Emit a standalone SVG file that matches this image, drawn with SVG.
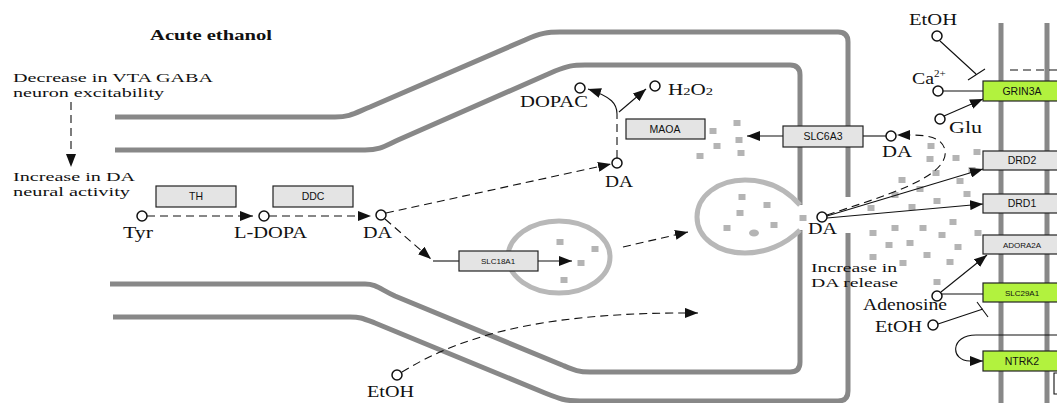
<svg xmlns="http://www.w3.org/2000/svg" width="1057" height="403" viewBox="0 0 1057 403">
<style>
.mem{fill:none;stroke:#888;stroke-width:5}
.ves{fill:none;stroke:#b8b8b8;stroke-width:5}
.sq{fill:#b4b4b4}
.box{fill:#e4e4e4;stroke:#222;stroke-width:1.2}
.gbox{fill:#b2f23e;stroke:#222;stroke-width:1.2}
.bt{font-family:"Liberation Sans",Arial,sans-serif;font-size:10.5px;fill:#111;text-anchor:middle}
.bts{font-family:"Liberation Sans",Arial,sans-serif;font-size:8px;fill:#111;text-anchor:middle}
.t{font-family:"Liberation Serif","Times New Roman",serif;font-size:16px;fill:#111}
.t2{font-family:"Liberation Serif","Times New Roman",serif;font-size:13.5px;fill:#111}
.node{fill:#fff;stroke:#111;stroke-width:1.5}
.ln{fill:none;stroke:#111;stroke-width:1.1}
.dl{fill:none;stroke:#111;stroke-width:1.1;stroke-dasharray:8 5}
</style>
<defs>
<marker id="ar" markerUnits="userSpaceOnUse" markerWidth="14" markerHeight="10" refX="13" refY="5" orient="auto">
<path d="M0,0 L13,5 L0,10 Z" fill="#111"/>
</marker>
</defs>
<rect width="1057" height="403" fill="#fff"/>

<g id="membranes">
<path class="mem" d="M115 117 L335 117 C350 117 355 113 370 107 L525 40 C540 33 548 32 560 32 L838 32 Q848 32 848 42 L848 197"/>
<path class="mem" d="M848 233 L848 391 Q848 401 838 401 L580 401 C565 401 560 399 545 393 L375 323 C362 318 360 317 350 317 L113 317"/>
<path class="mem" d="M115 150 L365 150 C380 150 385 146 398 140 L555 71 C568 66 572 65 585 65 L790 65 Q800 65 800 75 L800 205"/>
<path class="mem" d="M800 230 L800 362 Q800 372 790 372 L590 372 C578 372 574 370 562 365 L395 296 C380 289 376 284 365 284 L110 284"/>
<path class="mem" d="M1001 23 L1001 403 M1047 23 L1047 403"/>
</g>

<g id="vesicles">
<path class="ves" d="M800 205 C785 188 765 180 745 180 C718 180 697 196 697 217 C697 238 718 253 745 253 C765 253 785 245 800 230"/>
<ellipse class="ves" cx="559" cy="257" rx="51" ry="36"/>
</g>

<g id="particles">
<rect class="sq" x="733.5" y="120" width="7" height="6"/>
<rect class="sq" x="709.5" y="128" width="7" height="6"/>
<rect class="sq" x="735.5" y="137" width="7" height="6"/>
<rect class="sq" x="713.5" y="143" width="7" height="6"/>
<rect class="sq" x="737.5" y="150" width="7" height="6"/>
<rect class="sq" x="696.5" y="153" width="7" height="6"/>
<rect class="sq" x="738.5" y="194" width="7" height="6"/>
<rect class="sq" x="763.5" y="202" width="7" height="6"/>
<rect class="sq" x="736.5" y="210" width="7" height="6"/>
<rect class="sq" x="723.5" y="225" width="7" height="6"/>
<rect class="sq" x="770.5" y="222" width="7" height="6"/>
<rect class="sq" x="799.5" y="215" width="7" height="6"/>
<ellipse class="sq" cx="754" cy="233" rx="5" ry="3.5"/>
<rect class="sq" x="556.5" y="239" width="7" height="6"/>
<rect class="sq" x="591.5" y="246" width="7" height="6"/>
<rect class="sq" x="577.5" y="260" width="7" height="6"/>
<rect class="sq" x="560.5" y="277" width="7" height="6"/>
<rect class="sq" x="927.5" y="143" width="7" height="6"/>
<rect class="sq" x="926.5" y="156" width="7" height="6"/>
<rect class="sq" x="952.5" y="155" width="7" height="6"/>
<rect class="sq" x="973.5" y="149" width="7" height="6"/>
<rect class="sq" x="932.5" y="170" width="7" height="6"/>
<rect class="sq" x="898.5" y="177" width="7" height="6"/>
<rect class="sq" x="916.5" y="186" width="7" height="6"/>
<rect class="sq" x="956.5" y="178" width="7" height="6"/>
<rect class="sq" x="968.5" y="167" width="7" height="6"/>
<rect class="sq" x="891.5" y="192" width="7" height="6"/>
<rect class="sq" x="963.5" y="191" width="7" height="6"/>
<rect class="sq" x="933.5" y="198" width="7" height="6"/>
<rect class="sq" x="867.5" y="205" width="7" height="6"/>
<rect class="sq" x="908.5" y="204" width="7" height="6"/>
<rect class="sq" x="949.5" y="219" width="7" height="6"/>
<rect class="sq" x="869.5" y="230" width="7" height="6"/>
<rect class="sq" x="891.5" y="225" width="7" height="6"/>
<rect class="sq" x="919.5" y="225" width="7" height="6"/>
<rect class="sq" x="938.5" y="232" width="7" height="6"/>
<rect class="sq" x="974.5" y="230" width="7" height="6"/>
<rect class="sq" x="885.5" y="242" width="7" height="6"/>
<rect class="sq" x="906.5" y="240" width="7" height="6"/>
<rect class="sq" x="954.5" y="244" width="7" height="6"/>
<rect class="sq" x="869.5" y="254" width="7" height="6"/>
<rect class="sq" x="899.5" y="260" width="7" height="6"/>
<rect class="sq" x="923.5" y="252" width="7" height="6"/>
<rect class="sq" x="946.5" y="259" width="7" height="6"/>
<rect class="sq" x="933.5" y="279" width="7" height="6"/>
</g>

<g id="connectors">
<path class="dl" d="M71 102 L71 167" marker-end="url(#ar)"/>
<path class="dl" d="M147 216 L253 216" marker-end="url(#ar)"/>
<path class="dl" d="M269 216 L371 216" marker-end="url(#ar)"/>
<path class="dl" d="M386 213 L611 164" marker-end="url(#ar)"/>
<path class="dl" d="M385 219 L431 259" marker-end="url(#ar)"/>
<path class="ln" d="M433 261 L459 261"/>
<path class="ln" d="M538 261 L572 261" marker-end="url(#ar)"/>
<path class="dl" d="M623 247 L688 232" marker-end="url(#ar)"/>
<path class="dl" d="M617 158 L617 114"/>
<path class="ln" d="M617 114 C617 104 612 97 588 89" marker-end="url(#ar)"/>
<path class="ln" d="M619 112 L646 89" marker-end="url(#ar)"/>
<path class="ln" d="M783 136 L747 136" marker-end="url(#ar)"/>
<path class="ln" d="M863 136 L886 136"/>
<path class="dl" d="M827 215 C880 197 950 178 945 150 C942 137 927 135 910 135"/>
<path d="M897 135 L910 130 L910 140 Z" fill="#111"/>
<path class="ln" d="M827 216 L983 169" marker-end="url(#ar)"/>
<path class="ln" d="M827 218 L983 204" marker-end="url(#ar)"/>
<path class="ln" d="M940 41 L976 74 M968 80 L985 69"/>
<path class="ln" d="M943 91 L983 91"/>
<path class="ln" d="M944 116 L983 99" marker-end="url(#ar)"/>
<path class="ln" d="M941 292 L987 255" marker-end="url(#ar)"/>
<path class="ln" d="M942 294 L983 294"/>
<path class="ln" d="M938 324 L983 309 M977 302 L988 317"/>
<path class="ln" d="M1057 335 L976 335 C950 335 950 361 970 361 L983 361" marker-end="url(#ar)"/>
<path class="dl" d="M1010 70 L1057 70"/>
<path class="ln" d="M1057 373 L1054 373 L1054 394 L1057 394"/>
<path class="dl" d="M402 372 C470 330 560 312 698 313" marker-end="url(#ar)"/>
</g>

<g id="TH"><rect class="box" x="156" y="186" width="80" height="21"/><text class="bt" x="196" y="200">TH</text></g>
<g id="DDC"><rect class="box" x="273" y="186" width="80" height="21"/><text class="bt" x="313" y="200">DDC</text></g>
<g id="MAOA"><rect class="box" x="626" y="119" width="79" height="20"/><text class="bt" x="665" y="133">MAOA</text></g>
<g id="SLC18A1"><rect class="box" x="459" y="251" width="79" height="20"/><text class="bts" x="498" y="264">SLC18A1</text></g>
<g id="SLC6A3"><rect class="box" x="783" y="126" width="80" height="21"/><text class="bt" x="823" y="140">SLC6A3</text></g>
<g id="GRIN3A"><rect class="gbox" x="983" y="81" width="80" height="20"/><text class="bt" x="1022" y="95">GRIN3A</text></g>
<g id="DRD2"><rect class="box" x="983" y="151" width="80" height="19"/><text class="bt" x="1022" y="164">DRD2</text></g>
<g id="DRD1"><rect class="box" x="983" y="194" width="80" height="19"/><text class="bt" x="1022" y="207">DRD1</text></g>
<g id="ADORA2A"><rect class="box" x="983" y="235" width="80" height="19"/><text class="bts" x="1022" y="248">ADORA2A</text></g>
<g id="SLC29A1"><rect class="gbox" x="983" y="283" width="80" height="19"/><text class="bts" x="1022" y="296">SLC29A1</text></g>
<g id="NTRK2"><rect class="gbox" x="983" y="351" width="80" height="20"/><text class="bt" x="1022" y="365">NTRK2</text></g>

<g id="compounds">
<circle class="node" cx="142" cy="216" r="5"/>
<circle class="node" cx="264" cy="216" r="5"/>
<circle class="node" cx="381" cy="215" r="5"/>
<circle class="node" cx="617" cy="163" r="5"/>
<circle class="node" cx="580" cy="88" r="5"/>
<circle class="node" cx="655" cy="86" r="5"/>
<circle class="node" cx="891" cy="136" r="5"/>
<circle class="node" cx="822" cy="217" r="5"/>
<circle class="node" cx="937" cy="36" r="5"/>
<circle class="node" cx="938" cy="91" r="5"/>
<circle class="node" cx="940" cy="119" r="5"/>
<circle class="node" cx="937" cy="296" r="5"/>
<circle class="node" cx="933" cy="325" r="5"/>
<circle class="node" cx="397" cy="375" r="5"/>
</g>

<g id="labels">
<text x="150" y="40" style="font-family:'Liberation Serif','Times New Roman',serif;font-size:14px;font-weight:bold;fill:#111" textLength="122" lengthAdjust="spacingAndGlyphs">Acute ethanol</text>
<text class="t2" x="13" y="82" textLength="200" lengthAdjust="spacingAndGlyphs">Decrease in VTA GABA</text>
<text class="t2" x="13" y="97" textLength="151" lengthAdjust="spacingAndGlyphs">neuron excitability</text>
<text class="t2" x="13" y="181" textLength="122" lengthAdjust="spacingAndGlyphs">Increase in DA</text>
<text class="t2" x="13" y="196" textLength="117" lengthAdjust="spacingAndGlyphs">neural activity</text>
<text class="t" x="123" y="238" textLength="30" lengthAdjust="spacingAndGlyphs">Tyr</text>
<text class="t" x="234" y="238" textLength="73" lengthAdjust="spacingAndGlyphs">L-DOPA</text>
<text class="t" x="363" y="238" textLength="29" lengthAdjust="spacingAndGlyphs">DA</text>
<text class="t" x="605" y="187" textLength="28" lengthAdjust="spacingAndGlyphs">DA</text>
<text class="t" x="520" y="107" textLength="68" lengthAdjust="spacingAndGlyphs">DOPAC</text>
<text class="t" x="668" y="95" textLength="45" lengthAdjust="spacingAndGlyphs">H<tspan font-size="11">2</tspan>O<tspan font-size="11">2</tspan></text>
<text class="t" x="882" y="157" textLength="30" lengthAdjust="spacingAndGlyphs">DA</text>
<text class="t" x="909" y="25" textLength="48" lengthAdjust="spacingAndGlyphs">EtOH</text>
<text class="t" x="912" y="84" textLength="22" lengthAdjust="spacingAndGlyphs">Ca</text>
<text class="t" x="934" y="77" style="font-size:11px">2+</text>
<text class="t" x="949" y="133" textLength="33" lengthAdjust="spacingAndGlyphs">Glu</text>
<text class="t" x="808" y="234" textLength="29" lengthAdjust="spacingAndGlyphs">DA</text>
<text class="t2" x="811" y="272" textLength="86" lengthAdjust="spacingAndGlyphs">Increase in</text>
<text class="t2" x="811" y="287" textLength="87" lengthAdjust="spacingAndGlyphs">DA release</text>
<text class="t" x="863" y="310" textLength="84" lengthAdjust="spacingAndGlyphs">Adenosine</text>
<text class="t" x="875" y="332" textLength="47" lengthAdjust="spacingAndGlyphs">EtOH</text>
<text class="t" x="367" y="397" textLength="47" lengthAdjust="spacingAndGlyphs">EtOH</text>
</g>
</svg>
